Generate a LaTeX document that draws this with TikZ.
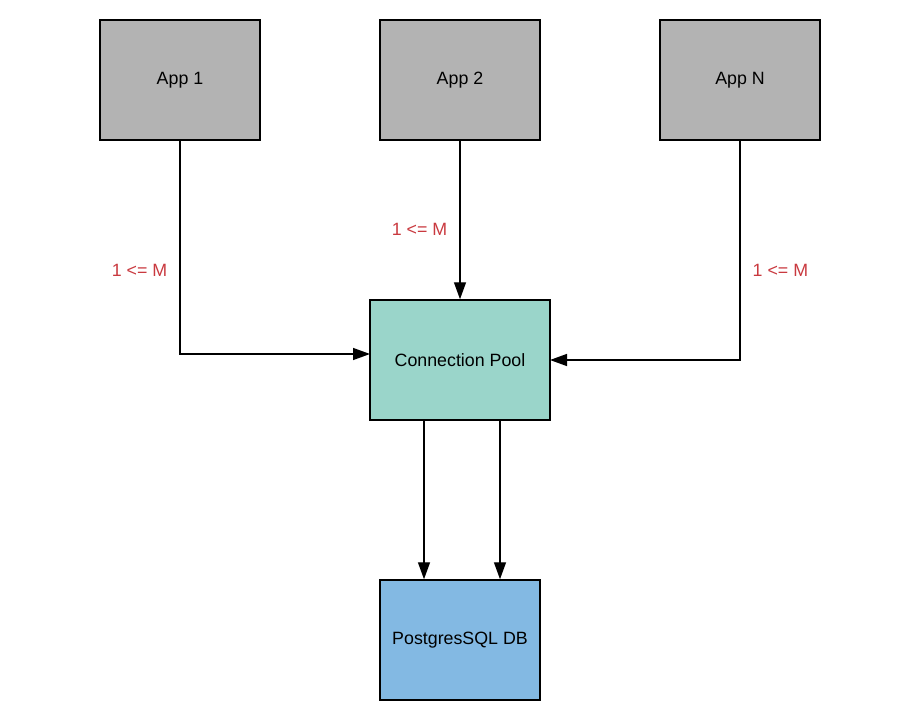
\documentclass[tikz,border=0pt]{standalone}
\usepackage{fontspec}
\setmainfont{Liberation Sans}
\usetikzlibrary{arrows.meta}
\definecolor{appgray}{HTML}{B3B3B3}
\definecolor{poolteal}{HTML}{9AD5CA}
\definecolor{dbblue}{HTML}{83B9E3}
\definecolor{lblred}{HTML}{C9393F}
\tikzset{
  box/.style={draw, line width=1.5pt, minimum width=160pt, minimum height=120pt, inner sep=0pt, font=\fontsize{17.8}{20}\selectfont},
  conn/.style={line width=1.4pt, -{Triangle[length=17pt, width=12pt]}},
  mult/.style={text=lblred, inner sep=0pt, font=\fontsize{17.8}{20}\selectfont}
}
\begin{document}
\begin{tikzpicture}[x=1pt, y=-1pt]
  \useasboundingbox (0, 0) rectangle (920, 720);
  \node [box, fill=appgray] (app1) at (180, 80) {App 1};
  \node [box, fill=appgray] (app2) at (460, 80) {App 2};
  \node [box, fill=appgray] (appn) at (740, 80) {App N};
  \node [box, fill=poolteal, minimum width=180pt] (pool) at (460, 360) {Connection Pool};
  \node [box, fill=dbblue] (db) at (460, 640) {PostgresSQL DB};
  \coordinate (p1) at (370, 354);
  \coordinate (pn) at (550, 360);
  \draw [conn] (app1.south) to node[pos=0.607, left=12pt, mult] {1 <= M} (app1.south |- p1) to (p1);
  \draw [conn] (app2.south) to node[pos=0.562, left=12pt, mult] {1 <= M} (pool.north);
  \draw [conn] (appn.south) to node[pos=0.59, right=12pt, mult] {1 <= M} (appn.south |- pn) to (pn);
  \draw [conn] ([xshift=-36pt]pool.south) to ([xshift=-36pt]db.north);
  \draw [conn] ([xshift=40pt]pool.south) to ([xshift=40pt]db.north);
\end{tikzpicture}
\end{document}
